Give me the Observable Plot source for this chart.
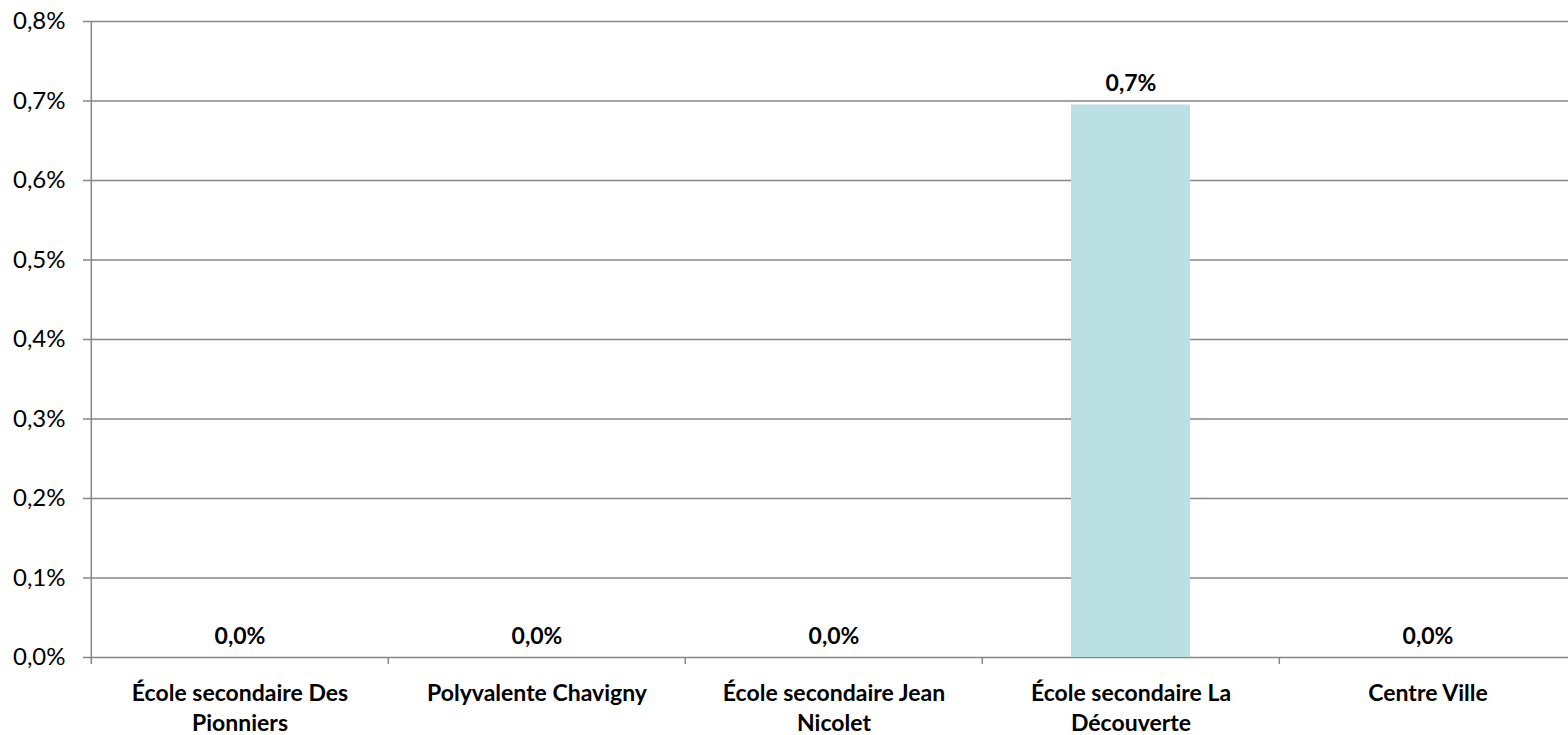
<!DOCTYPE html>
<html>
<head>
<meta charset="utf-8">
<script src="https://cdn.jsdelivr.net/npm/d3@7"></script>
<script src="https://cdn.jsdelivr.net/npm/@observablehq/plot@0.6"></script>
<style>
  html, body { margin: 0; padding: 0; background: #fff; }
  #chart svg { display: block; }
</style>
</head>
<body>
<div id="chart"></div>
<script>
const categories = [
  "École secondaire Des Pionniers",
  "Polyvalente Chavigny",
  "École secondaire Jean Nicolet",
  "École secondaire La Découverte",
  "Centre Ville"
];
const values = [0, 0, 0, 0.695, 0];
const valueLabels = ["0,0%", "0,0%", "0,0%", "0,7%", "0,0%"];
const tickLabels = [
  "École secondaire Des\nPionniers",
  "Polyvalente Chavigny",
  "École secondaire Jean\nNicolet",
  "École secondaire La\nDécouverte",
  "Centre Ville"
];
const yTicks = [0, 0.1, 0.2, 0.3, 0.4, 0.5, 0.6, 0.7, 0.8];
const yTickLabels = ["0,0%", "0,1%", "0,2%", "0,3%", "0,4%", "0,5%", "0,6%", "0,7%", "0,8%"];

const data = categories.map((c, i) => ({ cat: c, value: values[i], label: valueLabels[i] }));

const xRange = [90, 1577];
const step = (xRange[1] - xRange[0]) / categories.length;
const gridColor = "#878787";

const chart = Plot.plot({
  width: 1568,
  height: 735,
  marginLeft: 90,
  marginTop: 21,
  marginBottom: 78,
  marginRight: 0,
  style: { fontFamily: "Lato, 'Open Sans', sans-serif", background: "#fff", overflow: "visible" },
  x: { domain: categories, range: xRange, paddingInner: 0.6, paddingOuter: 0.3 },
  y: { domain: [0, 0.8] },
  marks: [
    Plot.ruleY(yTicks, { stroke: gridColor, strokeWidth: 1.5 }),
    Plot.barY(data, { x: "cat", y: "value", fill: "#bbe0e3" }),
    Plot.ruleX(categories, { x: d => d, dx: -step / 2, y1: 0, y2: 0, insetBottom: -7, stroke: gridColor, strokeWidth: 1.5 }),
    Plot.ruleX([categories[0]], { x: d => d, dx: -step / 2, y1: 0, y2: 0.8, stroke: gridColor, strokeWidth: 1.5 }),
    Plot.axisY({
      ticks: yTicks,
      tickFormat: d => yTickLabels[yTicks.indexOf(d)],
      tickSize: 7,
      tickPadding: 18,
      stroke: gridColor,
      strokeWidth: 1.5,
      fontSize: 24,
      fill: "#000",
      color: "#000",
      label: null
    }),
    Plot.axisX({
      tickSize: 0,
      tickPadding: 22,
      tickFormat: d => tickLabels[categories.indexOf(d)],
      fontSize: 23,
      fontWeight: "bold",
      lineHeight: 1.3,
      fill: "#000",
      label: null
    }),
    Plot.text(data, {
      x: "cat",
      y: "value",
      text: "label",
      dy: -21,
      lineAnchor: "middle",
      fontSize: 23,
      fontWeight: "bold",
      fill: "#000"
    })
  ]
});
document.getElementById("chart").appendChild(chart);
</script>
</body>
</html>
